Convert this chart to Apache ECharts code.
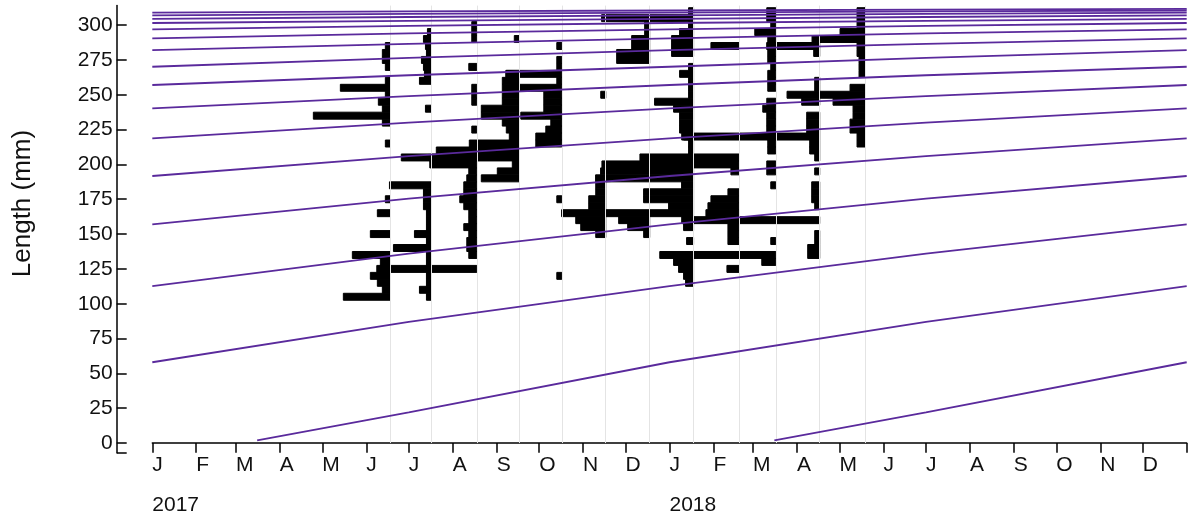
<!DOCTYPE html>
<html><head><meta charset="utf-8">
<script src="https://cdn.jsdelivr.net/npm/echarts@6/dist/echarts.min.js"></script>
<style>html,body{margin:0;padding:0;background:#fff}#c{width:1195px;height:518px}</style>
</head><body><div id="c"></div>
<script>
// ---------- axis labels ----------
const monthLabels = ['J','F','M','A','M','J','J','A','S','O','N','D'];
const yTickValues = [0,25,50,75,100,125,150,175,200,225,250,275,300];
const yearLabelDates = ['2017-01-01','2018-01-01'];
const axisStart = '2017-01-01';
const axisEnd = '2019-01-01';

// ---------- sample dates ----------
const sampleDates = ['2017-06-18','2017-07-17','2017-08-18','2017-09-17','2017-10-17','2017-11-17',
                     '2017-12-18','2018-01-18','2018-02-19','2018-03-17','2018-04-17','2018-05-19'];

// ---------- restructured scores per sample: [mid length (mm), positive score] ----------
const jun17 = [[285,5],[280,8],[275,8],[270,5],[260,5],[255,50],[250,5],[245,12],[240,8],[235,77],[230,8],[215,5],[175,5],[165,13],[150,20],[135,38],[130,10],[125,10],[120,20],[115,13],[110,8],[105,47]];
const jul17 = [[295,4],[290,8],[285,6],[280,5],[275,10],[270,8],[265,7],[260,12],[240,6],[185,42],[180,8],[175,8],[170,8],[165,5],[160,5],[155,5],[150,17],[145,5],[140,38],[135,5],[130,5],[125,5],[120,5],[115,5],[110,12],[105,5]];
const aug17 = [[300,5],[295,5],[290,5],[270,8],[255,5],[250,5],[245,5],[225,5],[200,47],[195,8],[190,10],[185,13],[180,13],[175,17],[170,13],[165,8],[160,8],[155,13],[150,8],[145,10],[140,10],[135,8],[125,100]];
const sep17 = [[290,5],[265,13],[260,17],[255,17],[250,17],[245,17],[240,38],[235,38],[230,17],[225,13],[220,10],[215,50],[210,83],[205,118],[200,7],[195,22],[190,38]];
const oct17 = [[285,5],[275,5],[270,5],[265,56],[260,5],[255,50],[250,18],[245,18],[240,18],[235,41],[230,11],[225,16],[220,26],[215,26],[175,5],[120,5]];
const nov17 = [[250,5],[185,10],[180,10],[175,17],[170,17],[160,30],[155,25],[150,10]];
const dec17 = [[300,5],[295,5],[290,18],[285,18],[280,33],[275,33],[160,31],[155,22],[150,6]];
const jan18 = [[310,5],[305,92],[300,5],[295,14],[290,22],[285,22],[280,22],[270,5],[265,14],[260,5],[255,5],[250,5],[245,39],[240,20],[235,14],[230,14],[225,14],[220,10],[215,5],[210,5],[195,93],[190,98],[185,12],[180,50],[175,50],[170,25],[165,132],[160,10],[155,10],[145,7],[130,20],[125,15],[120,10],[115,8]];
const feb18 = [[285,28],[205,99],[200,137],[195,8],[180,11],[175,28],[170,31],[165,33],[155,11],[150,11],[145,11],[125,12]];
const mar18 = [[310,9],[305,9],[300,5],[295,21],[290,8],[285,8],[280,8],[275,8],[270,5],[265,8],[260,8],[255,8],[245,9],[240,13],[235,9],[230,9],[225,9],[220,8],[215,8],[210,8],[200,9],[195,9],[185,5],[145,5],[135,116],[130,14]];
const apr18 = [[285,53],[280,6],[260,5],[255,5],[245,18],[235,13],[230,13],[225,13],[220,138],[215,10],[210,10],[205,5],[195,5],[185,8],[180,8],[175,8],[170,5],[160,138],[150,5],[145,5],[140,12],[135,12]];
const may18 = [[310,8],[305,8],[300,8],[295,25],[290,53],[285,8],[280,8],[275,6],[270,6],[265,6],[255,15],[250,78],[245,32],[240,12],[235,12],[230,15],[225,15],[220,8],[215,8]];
const sampleScores = [jun17, jul17, aug17, sep17, oct17, nov17, dec17, jan18, feb18, mar18, apr18, may18];

// ---------- growth curves (length read at these dates; null = not yet recruited) ----------
const curveDates = ['2017-01-01','2017-07-01','2018-01-01','2018-07-01','2019-01-01'];
const cohort2018 = [null, null, null, 22, 58];
const cohort2017 = [null, 22, 58, 87, 112.7];
const cohort2016 = [58, 87, 112.7, 136, 157];
const cohort2015 = [112.7, 136, 157, 175.5, 191.7];
const cohort2014 = [157, 175.5, 191.7, 206, 218.7];
const cohort2013 = [191.7, 206, 218.7, 230, 240.2];
const cohort2012 = [218.7, 230, 240.2, 249, 257];
const cohort2011 = [240.2, 249, 257, 264, 270.1];
const cohort2010 = [257, 264, 270.1, 276.5, 282];
const cohort2009 = [270.1, 276.5, 282, 286.5, 290.5];
const cohort2008 = [282, 286.5, 290.5, 294, 297];
const cohort2007 = [290.5, 294, 297, 299.4, 301.5];
const cohort2006 = [297, 299.4, 301.5, 303.1, 304.5];
const cohort2005 = [301.5, 303.1, 304.5, 305.8, 307];
const cohort2004 = [304.5, 305.8, 307, 308, 309];
const cohort2003 = [307, 308, 309, 309.8, 310.5];
const cohort2002 = [309, 309.8, 310.5, 311.1, 311.7];
const recruitment2018 = ['2018-03-16', 2];
const recruitment2017 = ['2017-03-16', 2];
const cohorts = [
  [cohort2018, recruitment2018], [cohort2017, recruitment2017], [cohort2016], [cohort2015], [cohort2014],
  [cohort2013], [cohort2012], [cohort2011], [cohort2010], [cohort2009], [cohort2008], [cohort2007],
  [cohort2006], [cohort2005], [cohort2004], [cohort2003], [cohort2002]
];

// ---------- style ----------
const BIN = 5;                 // length class width (mm)
const SCORE_DAYS = 0.7057;     // bar width in days per score unit
const DAY = 86400000;
const Y_MIN = -7, Y_MAX = 314;
const FONT = '"Liberation Sans", Arial, Helvetica, sans-serif';
const TXT = '#111';
const PURPLE = '#5a2a9c';

function toMs(s){ const p = s.split('-').map(Number); return new Date(p[0], p[1]-1, p[2]).getTime(); }

const monthTicks = [];
for (let y = 2017; y <= 2018; y++) for (let m = 0; m < 12; m++) monthTicks.push(new Date(y, m, 1).getTime());
const monthTicksAll = monthTicks.concat([toMs(axisEnd)]);

const barData = [];
sampleScores.forEach((arr, i) => arr.forEach(([mid, sc]) => barData.push([toMs(sampleDates[i]), mid, sc])));

const lineSeries = cohorts.map(([vals, birth]) => {
  const pts = [];
  if (birth) pts.push([toMs(birth[0]), birth[1]]);
  vals.forEach((v, i) => { if (v !== null) pts.push([toMs(curveDates[i]), v]); });
  return {
    type: 'line', data: pts, showSymbol: false, symbol: 'none', silent: true,
    smooth: false, z: 5,
    lineStyle: { color: PURPLE, width: 1.8 }
  };
});

const xMin = toMs(axisStart), xMax = toMs(axisEnd);
const chart = echarts.init(document.getElementById('c'), null, { renderer: 'canvas' });
chart.setOption({
  animation: false,
  backgroundColor: '#fff',
  grid: { left: 152.3, right: 8.3, top: 5.6, bottom: 65.2, containLabel: false },
  xAxis: [
    {
      type: 'value', min: xMin, max: xMax, scale: true,
      axisLine: { show: true, onZero: true, lineStyle: { color: '#000', width: 1.5 } },
      axisTick: { show: true, length: 7, lineStyle: { color: '#000', width: 1.5 }, customValues: monthTicksAll },
      axisLabel: {
        customValues: monthTicks, hideOverlap: false,
        formatter: v => monthLabels[new Date(v).getMonth()],
        align: 'left', margin: 1.7, fontSize: 21, color: TXT, fontFamily: FONT
      },
      splitLine: { show: false }
    },
    {
      type: 'value', min: xMin, max: xMax, scale: true, position: 'bottom', offset: 31.7,
      axisLine: { show: false, onZero: false }, axisTick: { show: false }, splitLine: { show: false },
      axisLabel: {
        customValues: yearLabelDates.map(toMs), hideOverlap: false,
        formatter: v => String(new Date(v).getFullYear()),
        align: 'left', margin: 10, fontSize: 21, color: TXT, fontFamily: FONT
      }
    },
    {
      type: 'value', min: xMin, max: xMax, scale: true, position: 'bottom', offset: 0,
      axisLine: { show: false, onZero: true }, splitLine: { show: false }, axisLabel: { show: false },
      axisTick: { show: true, inside: true, length: 5, lineStyle: { color: '#000', width: 1.5 }, customValues: monthTicksAll }
    }
  ],
  yAxis: {
    type: 'value', min: Y_MIN, max: Y_MAX, position: 'left', offset: 35.6,
    axisLine: { show: true, onZero: false, lineStyle: { color: '#000', width: 1.5 } },
    axisTick: { show: true, inside: true, length: 10, lineStyle: { color: '#000', width: 1.5 }, customValues: [Y_MIN].concat(yTickValues) },
    axisLabel: { customValues: yTickValues, margin: 4, fontSize: 21, color: TXT, fontFamily: FONT },
    splitLine: { show: false }
  },
  graphic: [{
    type: 'text', x: 22.5, y: 203.5, rotation: Math.PI / 2,
    style: { text: 'Length (mm)', fontSize: 26, fill: TXT, fontFamily: FONT, align: 'center', verticalAlign: 'middle' }
  }],
  series: [
    {
      type: 'line', data: [], silent: true, z: 1,
      markLine: {
        silent: true, symbol: 'none', label: { show: false },
        lineStyle: { color: '#e4e4e4', width: 1, type: 'solid' },
        data: sampleDates.map(d => [{ coord: [toMs(d), 0] }, { coord: [toMs(d), Y_MAX] }])
      }
    },
    {
      type: 'custom', data: barData, clip: true, z: 3, silent: true,
      encode: { x: 0, y: 1 },
      renderItem: function (params, api) {
        const t = api.value(0), mid = api.value(1), sc = api.value(2);
        const p1 = api.coord([t - sc * SCORE_DAYS * DAY, mid + BIN / 2]);
        const p2 = api.coord([t, mid - BIN / 2]);
        return {
          type: 'rect',
          shape: { x: p1[0], y: p1[1], width: p2[0] - p1[0], height: p2[1] - p1[1] },
          style: { fill: '#000', stroke: '#000', lineWidth: 1 }
        };
      }
    }
  ].concat(lineSeries)
});
</script>
</body></html>
